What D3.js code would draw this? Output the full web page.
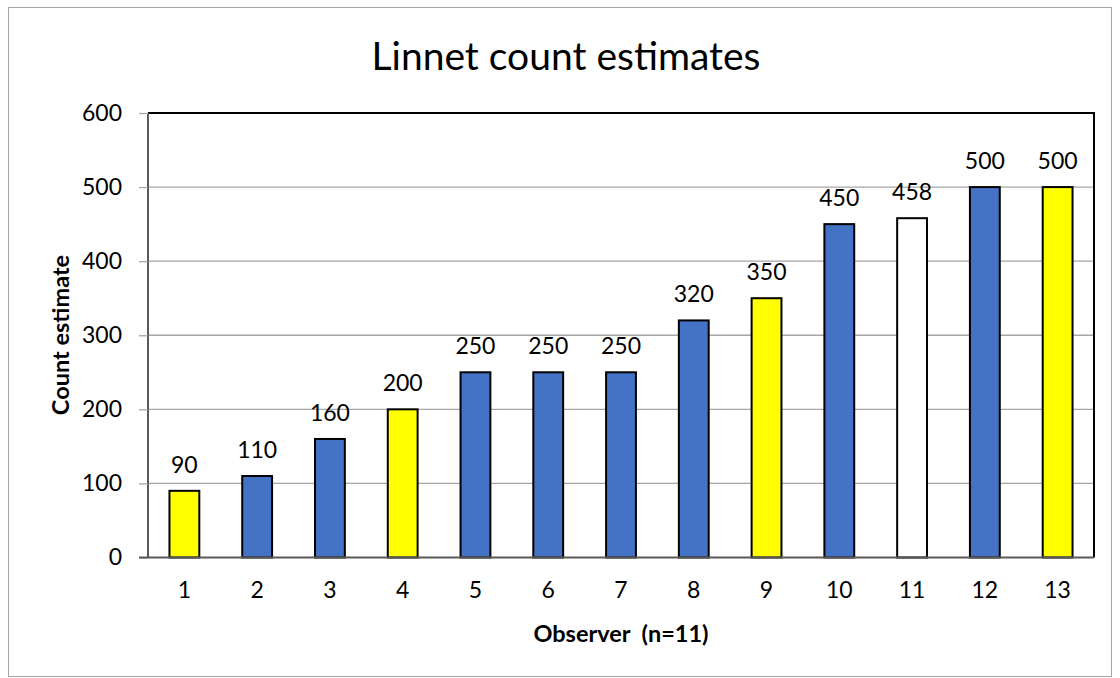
<!DOCTYPE html>
<html><head><meta charset="utf-8">
<script src="https://cdn.jsdelivr.net/npm/d3@7"></script>
<style>body{margin:0;background:#fff}svg{display:block}</style>
</head><body>
<script>
const observers = ["1","2","3","4","5","6","7","8","9","10","11","12","13"];
const counts = [90,110,160,200,250,250,250,320,350,450,458,500,500];
const fills = ["#FFFF00","#4472C4","#4472C4","#FFFF00","#4472C4","#4472C4","#4472C4","#4472C4","#FFFF00","#4472C4","#FFFFFF","#4472C4","#FFFF00"];
const yTicks = [0,100,200,300,400,500,600];

const W=1120,H=678;
const font = "Lato, 'Noto Sans', sans-serif";
const svg = d3.select("body").append("svg").attr("width",W).attr("height",H);
svg.append("rect").attr("x",8.5).attr("y",7.5).attr("width",1103).attr("height",669)
  .attr("fill","#fff").attr("stroke","#a6a6a6").attr("stroke-width",1);

const L=148,R=1094,T=113,B=557.5;
const x = d3.scaleBand().domain(observers).range([L,R]).paddingInner(0.59).paddingOuter(0.295);
const y = d3.scaleLinear().domain([0,600]).range([B,T]);

// gridlines
svg.append("g").selectAll("line").data(yTicks.filter(d=>d>0&&d<600)).join("line")
  .attr("x1",L).attr("x2",R).attr("y1",d=>y(d)).attr("y2",d=>y(d))
  .attr("stroke","#a6a6a6").attr("stroke-width",1.3);

// plot border top/right
svg.append("path").attr("d",`M${L},${T}H${R}V${B}`).attr("fill","none").attr("stroke","#000").attr("stroke-width",2);

// bars
svg.append("g").selectAll("rect").data(counts).join("rect")
  .attr("x",(d,i)=>x(observers[i])).attr("width",x.bandwidth())
  .attr("y",d=>y(d)).attr("height",d=>B-y(d))
  .attr("fill",(d,i)=>fills[i]).attr("stroke","#000").attr("stroke-width",2);

// y axis
const ya = svg.append("g").attr("transform",`translate(${L},0)`)
  .call(d3.axisLeft(y).tickValues(yTicks).tickSize(9).tickPadding(17));
ya.select(".domain").attr("stroke","#595959").attr("stroke-width",2).attr("d",`M0,${T}V${B}`);
ya.selectAll(".tick line").attr("stroke","#a6a6a6").attr("stroke-width",1.3);
ya.selectAll(".tick text").attr("font-family",font).attr("font-size",23).attr("fill","#000");

// x axis
const xa = svg.append("g").attr("transform",`translate(0,${B})`)
  .call(d3.axisBottom(x).tickSize(0).tickPadding(24));
xa.select(".domain").attr("stroke","#595959").attr("stroke-width",2).attr("d",`M${L-9},0H${R}`);
xa.selectAll(".tick text").attr("font-family",font).attr("font-size",23).attr("fill","#000");

// value labels
svg.append("g").selectAll("text").data(counts).join("text")
  .attr("x",(d,i)=>x(observers[i])+x.bandwidth()/2).attr("y",d=>y(d)-18)
  .attr("text-anchor","middle").attr("font-family",font).attr("font-size",23).attr("fill","#000")
  .text(d=>d);

// titles
svg.append("text").attr("x",566).attr("y",70).attr("text-anchor","middle")
  .attr("font-family",font).attr("font-size",39).attr("fill","#000").text("Linnet count estimates");
svg.append("text").attr("x",621).attr("y",642).attr("text-anchor","middle")
  .attr("font-family",font).attr("font-size",23.5).attr("font-weight","bold").attr("fill","#000")
  .attr("xml:space","preserve").style("white-space","pre").text("Observer  (n=11)");
svg.append("text").attr("transform","translate(69,335) rotate(-90)").attr("text-anchor","middle")
  .attr("font-family",font).attr("font-size",23.5).attr("font-weight","bold").attr("fill","#000")
  .text("Count estimate");
</script>
</body></html>
